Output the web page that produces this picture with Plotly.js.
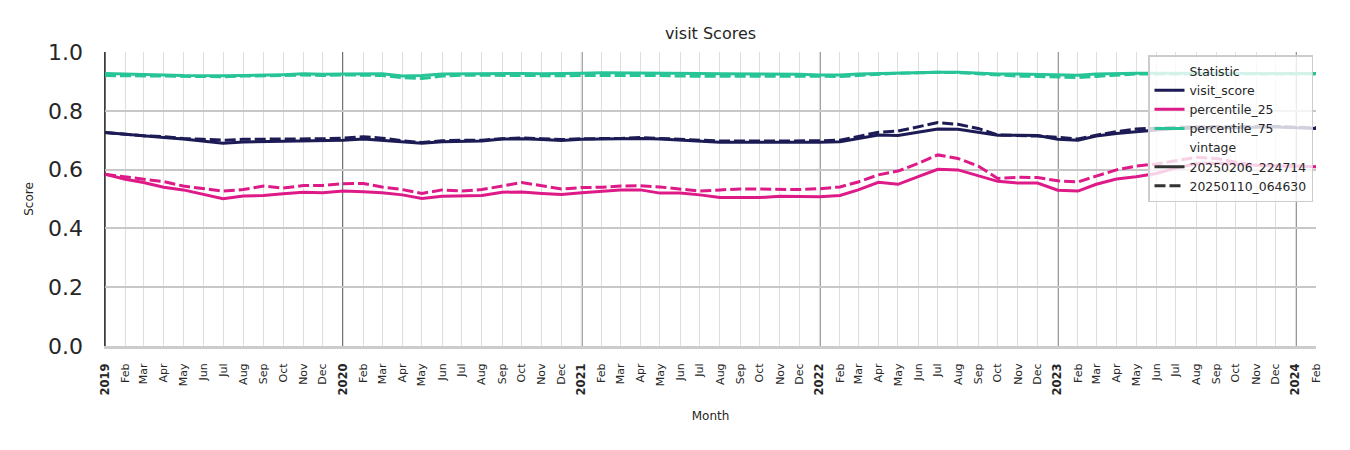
<!DOCTYPE html>
<html>
<head>
<meta charset="utf-8">
<script src="https://cdn.plot.ly/plotly-3.0.1.min.js"></script>
<style>html,body{margin:0;padding:0;background:#fff;}#chart{width:1350px;height:450px;}</style>
</head>
<body>
<div id="chart"></div>
<script>
// ---- data ----
const startYear = 2019;
const monthAbbr = ['Jan','Feb','Mar','Apr','May','Jun','Jul','Aug','Sep','Oct','Nov','Dec'];
const yearMarks = [2019, 2020, 2021, 2022, 2023, 2024];

const visitScoreNew = [
  0.726,0.721,0.714,0.709,0.704,0.698,0.690,0.694,0.695,0.698,0.699,0.698,
  0.700,0.704,0.700,0.695,0.690,0.695,0.697,0.697,0.704,0.705,0.702,0.699,
  0.703,0.704,0.705,0.706,0.704,0.700,0.697,0.693,0.693,0.693,0.693,0.692,
  0.693,0.695,0.706,0.718,0.716,0.727,0.738,0.737,0.727,0.717,0.717,0.716,
  0.703,0.700,0.714,0.723,0.729,0.735,0.740,0.741,0.742,0.742,0.742,0.745,
  0.742,0.740];
const visitScoreOld = [
  0.726,0.720,0.715,0.712,0.706,0.703,0.700,0.703,0.703,0.705,0.705,0.705,
  0.707,0.712,0.707,0.698,0.692,0.698,0.700,0.700,0.705,0.708,0.705,0.702,
  0.705,0.705,0.706,0.709,0.706,0.703,0.700,0.697,0.697,0.697,0.697,0.697,
  0.698,0.700,0.714,0.727,0.731,0.746,0.760,0.754,0.740,0.718,0.717,0.714,
  0.710,0.704,0.717,0.729,0.738,0.742,0.744,0.745,0.745,0.745,0.745,0.747,
  0.744,0.742];
const p25New = [
  0.584,0.567,0.556,0.540,0.531,0.517,0.501,0.510,0.512,0.518,0.523,0.521,
  0.527,0.525,0.521,0.514,0.502,0.509,0.510,0.512,0.523,0.524,0.519,0.515,
  0.521,0.525,0.531,0.531,0.520,0.520,0.514,0.505,0.506,0.505,0.509,0.508,
  0.508,0.512,0.531,0.557,0.550,0.576,0.601,0.599,0.579,0.560,0.554,0.554,
  0.530,0.527,0.550,0.568,0.576,0.587,0.605,0.620,0.622,0.618,0.615,0.612,
  0.612,0.610];
const p25Old = [
  0.584,0.576,0.567,0.559,0.544,0.536,0.527,0.532,0.544,0.537,0.546,0.546,
  0.552,0.553,0.541,0.532,0.519,0.531,0.527,0.532,0.544,0.556,0.545,0.534,
  0.539,0.540,0.544,0.545,0.541,0.534,0.527,0.531,0.534,0.534,0.533,0.532,
  0.535,0.541,0.558,0.582,0.595,0.621,0.650,0.638,0.612,0.570,0.574,0.573,
  0.562,0.558,0.578,0.599,0.612,0.619,0.630,0.642,0.638,0.625,0.615,0.612,
  0.611,0.610];
const p75New = [
  0.927,0.926,0.924,0.922,0.920,0.919,0.919,0.920,0.921,0.923,0.926,0.924,
  0.925,0.926,0.926,0.918,0.920,0.925,0.926,0.926,0.927,0.927,0.926,0.926,
  0.928,0.929,0.929,0.929,0.928,0.928,0.927,0.926,0.926,0.925,0.925,0.924,
  0.922,0.922,0.925,0.927,0.929,0.930,0.931,0.931,0.927,0.925,0.925,0.924,
  0.922,0.921,0.925,0.927,0.928,0.928,0.928,0.928,0.928,0.927,0.927,0.927,
  0.927,0.927];
const p75Old = [
  0.920,0.919,0.919,0.918,0.917,0.916,0.916,0.918,0.918,0.920,0.922,0.920,
  0.922,0.922,0.920,0.913,0.910,0.918,0.921,0.921,0.920,0.921,0.920,0.919,
  0.920,0.920,0.921,0.922,0.920,0.918,0.918,0.916,0.916,0.916,0.916,0.916,
  0.916,0.917,0.920,0.925,0.928,0.929,0.931,0.930,0.926,0.920,0.918,0.917,
  0.914,0.913,0.917,0.920,0.925,0.925,0.925,0.925,0.925,0.925,0.925,0.925,
  0.925,0.925];

const statNames = ['visit_score','percentile_25','percentile_75'];
const vintageNames = ['20250206_224714','20250110_064630'];

// month dates
const months = [];
const tickText = [];
for (let i = 0; i < visitScoreNew.length; i++) {
  const y = startYear + Math.floor(i / 12);
  const m = i % 12;
  months.push(y + '-' + String(m + 1).padStart(2, '0') + '-01');
  tickText.push(m === 0 ? '<b><span style="font-size:11.5px">' + y + '</span></b>' : monthAbbr[m]);
}

// ---- styling ----
const colors = {visit_score:'#1d1b55', percentile_25:'#dd1a87', percentile_75:'#26c497'};
const dashes = ['solid', '11px,4px'];
const LW = 3;

const series = {
  visit_score: [visitScoreNew, visitScoreOld],
  percentile_25: [p25New, p25Old],
  percentile_75: [p75New, p75Old]
};

const traces = [];
statNames.forEach(s => {
  [0, 1].forEach(v => {
    traces.push({
      x: months, y: series[s][v], type: 'scatter', mode: 'lines',
      line: {color: colors[s], width: LW, dash: dashes[v]},
      showlegend: false, hoverinfo: 'skip'
    });
  });
});
const blank = 'rgba(0,0,0,0)';
traces.push({x:[null], y:[null], mode:'lines', name:'Statistic', line:{color:blank, width:LW}, showlegend:true});
statNames.forEach(s => traces.push({x:[null], y:[null], mode:'lines', name:s, line:{color:colors[s], width:LW}, showlegend:true}));
traces.push({x:[null], y:[null], mode:'lines', name:'vintage', line:{color:blank, width:LW}, showlegend:true});
vintageNames.forEach((n, v) => traces.push({x:[null], y:[null], mode:'lines', name:n, line:{color:'#333333', width:LW, dash:dashes[v]}, showlegend:true}));

const shapes = yearMarks.map(y => ({
  type:'line', xref:'x', yref:'paper', x0: y + '-01-01', x1: y + '-01-01', y0:0, y1:1,
  line:{color:'#3c3c3c', width:1.5}, layer:'between'
}));

const layout = {
  width: 1350, height: 450,
  margin: {l:105, r:34, t:52, b:104},
  paper_bgcolor:'#ffffff', plot_bgcolor:'#ffffff',
  font: {family:'DejaVu Sans, sans-serif', color:'#262626'},
  title: {text:'visit Scores', font:{size:16, color:'#262626'}, x:0.5, xref:'paper', xanchor:'center', y:1-33/450, yref:'container', yanchor:'middle'},
  xaxis: {
    type:'date', range:[months[0], months[months.length-1]],
    tickmode:'array', tickvals: months, ticktext: tickText, tickangle:-90,
    tickfont:{size:11, color:'#262626'}, ticks:'', ticklabelstandoff:10,
    showgrid:true, gridcolor:'#dedede', gridwidth:1,
    showline:true, linecolor:'#cccccc', linewidth:3, zeroline:false,
    title:{text:'Month', font:{size:12, color:'#262626'}, standoff:18}
  },
  yaxis: {
    range:[0, 1], tickmode:'array', tickvals:[0,0.2,0.4,0.6,0.8,1.0], ticktext:['0.0','0.2','0.4','0.6','0.8','1.0'],
    tickfont:{size:22, color:'#262626'}, ticks:'', ticklabelstandoff:16,
    showgrid:true, gridcolor:'#c8c8c8', gridwidth:2, zeroline:false,
    showline:true, linecolor:'#3c3c3c', linewidth:1.5,
    title:{text:'Score', font:{size:12, color:'#262626'}, standoff:12}
  },
  shapes: shapes,
  legend: {
    x:(1148-105)/(1316-105), y:(346-55)/294, xanchor:'left', yanchor:'top',
    bgcolor:'rgba(255,255,255,0.8)', bordercolor:'#cccccc', borderwidth:1.5,
    font:{size:12.4, color:'#262626'}, tracegroupgap:0, itemwidth:30
  },
  showlegend: true
};

Plotly.newPlot('chart', traces, layout, {displayModeBar:false, staticPlot:true});
</script>
</body>
</html>
